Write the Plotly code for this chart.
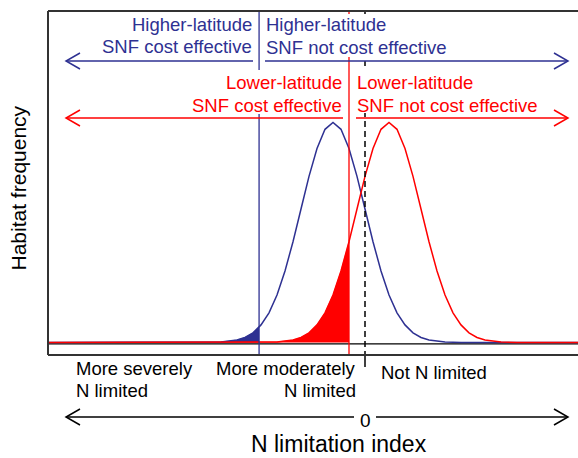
import plotly.graph_objects as go

# ---------------- data ----------------
# N limitation index (0 = dashed line); habitat frequency (peak = 1)
blue_x = [-9.9, -5.5, -5.0, -4.5, -4.0, -3.75, -3.5, -3.31, -3.25, -3.0, -2.75, -2.5,
          -2.25, -2.0, -1.75, -1.5, -1.25, -1.0, -0.75, -0.5, -0.25, 0.0, 0.25, 0.5,
          0.75, 1.0, 1.25, 1.5, 1.75, 2.0, 2.5, 3.0, 3.5, 6.66]
blue_y = [0.0, 0.0, 0.0003, 0.0022, 0.011, 0.023, 0.044, 0.069, 0.080, 0.135, 0.216, 0.325,
          0.458, 0.607, 0.755, 0.882, 0.969, 1.0, 0.969, 0.882, 0.755, 0.607, 0.458, 0.325,
          0.216, 0.135, 0.080, 0.044, 0.023, 0.011, 0.0022, 0.0003, 0.0, 0.0]
red_x = [-9.9, -3.75, -3.25, -2.75, -2.25, -2.0, -1.75, -1.5, -1.25, -1.0, -0.75, -0.5,
         -0.25, 0.0, 0.25, 0.5, 0.75, 1.0, 1.25, 1.5, 1.75, 2.0, 2.25, 2.5, 2.75, 3.0,
         3.25, 3.5, 3.75, 4.25, 4.75, 5.25, 6.66]
red_y = [0.0, 0.0, 0.0003, 0.0022, 0.011, 0.023, 0.044, 0.080, 0.135, 0.216, 0.325, 0.458,
         0.607, 0.755, 0.882, 0.969, 1.0, 0.969, 0.882, 0.755, 0.607, 0.458, 0.325, 0.216,
         0.135, 0.080, 0.044, 0.023, 0.011, 0.0022, 0.0003, 0.0, 0.0]
blue_threshold = -3.31
red_threshold = -0.5
zero_x = 0.0

blue_labels = ["Higher-latitude", "SNF cost effective", "Higher-latitude", "SNF not cost effective"]
red_labels = ["Lower-latitude", "SNF cost effective", "Lower-latitude", "SNF not cost effective"]
bottom_labels = ["More severely", "N limited", "More moderately", "N limited", "Not N limited"]
zero_label = "0"
x_title = "N limitation index"
y_title = "Habitat frequency"

# ---------------- layout helpers ----------------
BLUE = "#2E3192"
RED = "#FF0000"
FONT = "Liberation Sans, Arial, Helvetica, sans-serif"
W, H = 578, 458
L, R, T, B = 48, 0, 11, 103
PW, PH = W - L - R, H - T - B
x_range = [-9.906, 6.656]
y_range = [-0.0568, 1.5068]


# helpers take window-pixel coordinates
def px(xp):
    return (xp - L) / PW


def py(yp):
    return (H - B - yp) / PH


def dpx(x):
    return (x - x_range[0]) / (x_range[1] - x_range[0])


fig = go.Figure()

bfx = [x for x in blue_x if x <= blue_threshold]
bfy = [y for x, y in zip(blue_x, blue_y) if x <= blue_threshold]
rfx = [x for x in red_x if x <= red_threshold]
rfy = [y for x, y in zip(red_x, red_y) if x <= red_threshold]

fig.add_trace(go.Scatter(x=bfx, y=bfy, mode="lines", fill="tozeroy", fillcolor=BLUE,
                         line=dict(color=BLUE, width=0.5), hoverinfo="skip"))
fig.add_trace(go.Scatter(x=rfx, y=rfy, mode="lines", fill="tozeroy", fillcolor=RED,
                         line=dict(color=RED, width=0.5), hoverinfo="skip"))
fig.add_trace(go.Scatter(x=blue_x, y=blue_y, mode="lines", line=dict(color=BLUE, width=1.5),
                         hoverinfo="skip"))
fig.add_trace(go.Scatter(x=red_x, y=red_y, mode="lines", line=dict(color=RED, width=1.5),
                         hoverinfo="skip"))

shapes = []


def hline(x0, x1, y, color, width=1.5, layer="above"):
    shapes.append(dict(type="line", xref="paper", yref="paper", x0=px(x0), x1=px(x1),
                       y0=py(y), y1=py(y), line=dict(color=color, width=width), layer=layer))


def vline(xp, y0, y1, color, width=1.3, dash="solid"):
    shapes.append(dict(type="line", xref="paper", yref="paper", x0=xp, x1=xp,
                       y0=py(y0), y1=py(y1), line=dict(color=color, width=width, dash=dash)))


def rect(x0, y0, x1, y1):
    shapes.append(dict(type="rect", xref="paper", yref="paper", x0=px(x0), x1=px(x1),
                       y0=py(y1), y1=py(y0), fillcolor="white", line=dict(width=0)))


def chevron(tip, y, direction, color):
    b = tip + 14 * direction
    shapes.append(dict(type="path", xref="paper", yref="paper",
                       path=f"M {px(b)},{py(y - 8)} L {px(tip)},{py(y)} L {px(b)},{py(y + 8)}",
                       line=dict(color=color, width=1.5)))


# baseline
hline(48, 578, 343.8, "black", 1.3, layer="below")

# vertical thresholds
vline(dpx(blue_threshold), 11, 355, BLUE)
vline(dpx(red_threshold), 11, 355, RED)
vline(dpx(zero_x), 11, 355, "black", 1.5, dash="6px,4px")
vline(dpx(zero_x), 355, 367, "black", 1.5)

# white masks behind the text blocks
rect(263, 14, 452, 57)
rect(188, 70, 345, 114)
rect(353, 66, 540, 113)

# box
shapes.append(dict(type="line", xref="paper", yref="paper", x0=0, x1=0, y0=0, y1=1,
                   line=dict(color="#333333", width=2)))
shapes.append(dict(type="line", xref="paper", yref="paper", x0=0, x1=1, y0=1, y1=1,
                   line=dict(color="#333333", width=2)))
shapes.append(dict(type="line", xref="paper", yref="paper", x0=0, x1=1, y0=0, y1=0,
                   line=dict(color="#333333", width=2)))

# arrows
hline(66, 253, 61, BLUE)
hline(265, 568, 61, BLUE)
chevron(66, 61, 1, BLUE)
chevron(568, 61, -1, BLUE)
hline(66, 343, 118, RED)
hline(356, 568, 118, RED)
chevron(66, 118, 1, RED)
chevron(568, 118, -1, RED)
hline(66, 568, 417, "black")
chevron(66, 417, 1, "black")
chevron(568, 417, -1, "black")
rect(354, 412, 376, 422)  # gap in the index arrow around "0"

ann = []


def text(t, xp, yp, anchor, color, size=18.5, angle=0, yanchor="middle"):
    ann.append(dict(text=t, xref="paper", yref="paper", x=px(xp), y=py(yp), xanchor=anchor,
                    yanchor=yanchor, showarrow=False, borderpad=0, textangle=angle,
                    font=dict(family=FONT, size=size, color=color)))


text(blue_labels[0], 253, 25, "right", BLUE)
text(blue_labels[1], 253, 47, "right", BLUE)
text(blue_labels[2], 265, 25, "left", BLUE)
text(blue_labels[3], 265, 47.5, "left", BLUE)
text(red_labels[0], 343, 82.5, "right", RED)
text(red_labels[1], 343, 105, "right", RED)
text(red_labels[2], 356, 82.5, "left", RED)
text(red_labels[3], 356, 105, "left", RED)
text(bottom_labels[0], 75, 368, "left", "black")
text(bottom_labels[1], 75, 390, "left", "black")
text(bottom_labels[2], 357, 368, "right", "black")
text(bottom_labels[3], 357, 390.5, "right", "black")
text(bottom_labels[4], 380, 372.5, "left", "black")
text(zero_label, 365, 420.5, "center", "black", size=19)
text(x_title, 339, 458, "center", "black", size=23, yanchor="bottom")
text(y_title, 18, 188.5, "center", "black", size=21, angle=-90)

fig.update_layout(
    width=W, height=H, margin=dict(l=L, r=R, t=T, b=B, pad=0),
    paper_bgcolor="white", plot_bgcolor="white", showlegend=False,
    xaxis=dict(range=x_range, visible=False, fixedrange=True),
    yaxis=dict(range=y_range, visible=False, fixedrange=True),
    shapes=shapes, annotations=ann,
)

fig.write_html("out.html", config={"displayModeBar": False},
               post_script="document.body.style.margin='0';")
